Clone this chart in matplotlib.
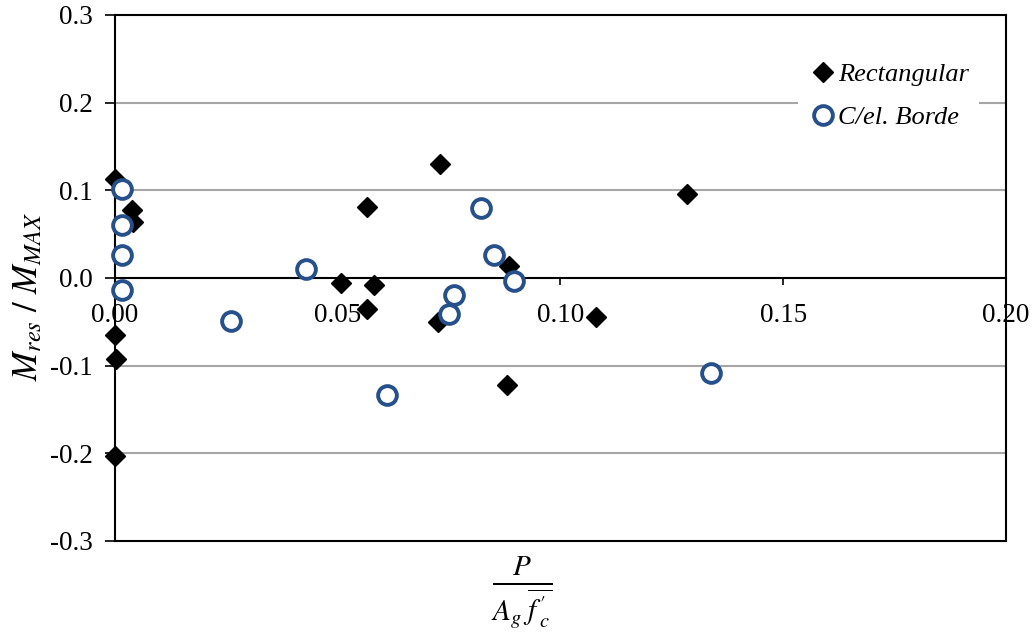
import matplotlib
matplotlib.use('Agg')
import matplotlib.pyplot as plt

# Data
rect_x = [0.0, 0.0038, 0.004, 0.0, 0.0002, 0.0, 0.0507, 0.0566, 0.0566, 0.0581,
          0.073, 0.0725, 0.0884, 0.088, 0.108, 0.1284]
rect_y = [0.113, 0.077, 0.064, -0.065, -0.092, -0.203, -0.006, -0.035, 0.081, -0.008,
          0.130, -0.050, 0.014, -0.122, -0.045, 0.096]

borde_x = [0.0016, 0.0016, 0.0016, 0.0016, 0.026, 0.0429, 0.061, 0.075, 0.076,
           0.0822, 0.085, 0.0896, 0.1338]
borde_y = [0.102, 0.060, 0.026, -0.014, -0.049, 0.010, -0.134, -0.041, -0.019,
           0.080, 0.026, -0.003, -0.108]

x_ticks = [0.0, 0.05, 0.10, 0.15, 0.20]
y_ticks = [-0.3, -0.2, -0.1, 0.0, 0.1, 0.2, 0.3]

plt.rcParams['font.family'] = 'Liberation Serif'
plt.rcParams['mathtext.fontset'] = 'stix'

fig = plt.figure(figsize=(10.36, 6.4), dpi=100)
ax = fig.add_axes([0.111, 0.1547, 0.860, 0.8219])

# gray gridlines
for yv in y_ticks:
    if yv not in (0.0, 0.3, -0.3):
        ax.axhline(yv, color='#a6a6a6', lw=1.5, zorder=0)

ax.plot(rect_x, rect_y, 'D', color='black', markersize=10.5, label='Rectangular',
        clip_on=False, zorder=3)
ax.plot(borde_x, borde_y, 'o', markerfacecolor='white', markeredgecolor='#26508a',
        markeredgewidth=2.8, markersize=13.5, label='C/el. Borde', clip_on=False, zorder=3)

ax.set_xlim(0, 0.20)
ax.set_ylim(-0.3, 0.3)
ax.set_xticks(x_ticks)
ax.set_xticklabels(['0.00', '0.05', '0.10', '0.15', '0.20'])
ax.set_yticks(y_ticks)
ax.set_yticklabels(['%.1f' % v for v in y_ticks])

# x axis drawn at y = 0, keep the frame at the bottom
ax.spines['bottom'].set_position(('data', 0))
ax.axhline(-0.3, color='black', lw=1.5, clip_on=False)
for s in ax.spines.values():
    s.set_linewidth(1.5)

ax.tick_params(axis='x', direction='out', length=5, width=1.2, labelsize=19.5, pad=13)
ax.tick_params(axis='y', direction='out', length=7, width=1.2, labelsize=19.5, pad=9)

ax.set_ylabel(r'$M_{res}\ /\ M_{MAX}$', fontsize=25)
ax.yaxis.set_label_coords(-0.078, 0.465)
fig.text(0.503, 0.075, r'$\frac{P}{A_g\;\overline{f\,^{\prime}_{c}}}$', fontsize=30,
         ha='center', va='center')

leg = ax.legend(loc='upper right', bbox_to_anchor=(0.985, 0.955), frameon=True,
                fancybox=False, edgecolor='none', facecolor='white', framealpha=1,
                prop={'family': 'Liberation Serif', 'style': 'italic', 'size': 19},
                handletextpad=0.0, labelspacing=0.75, borderpad=0.4, handlelength=1.1)

fig.savefig('out.png', dpi=100)
